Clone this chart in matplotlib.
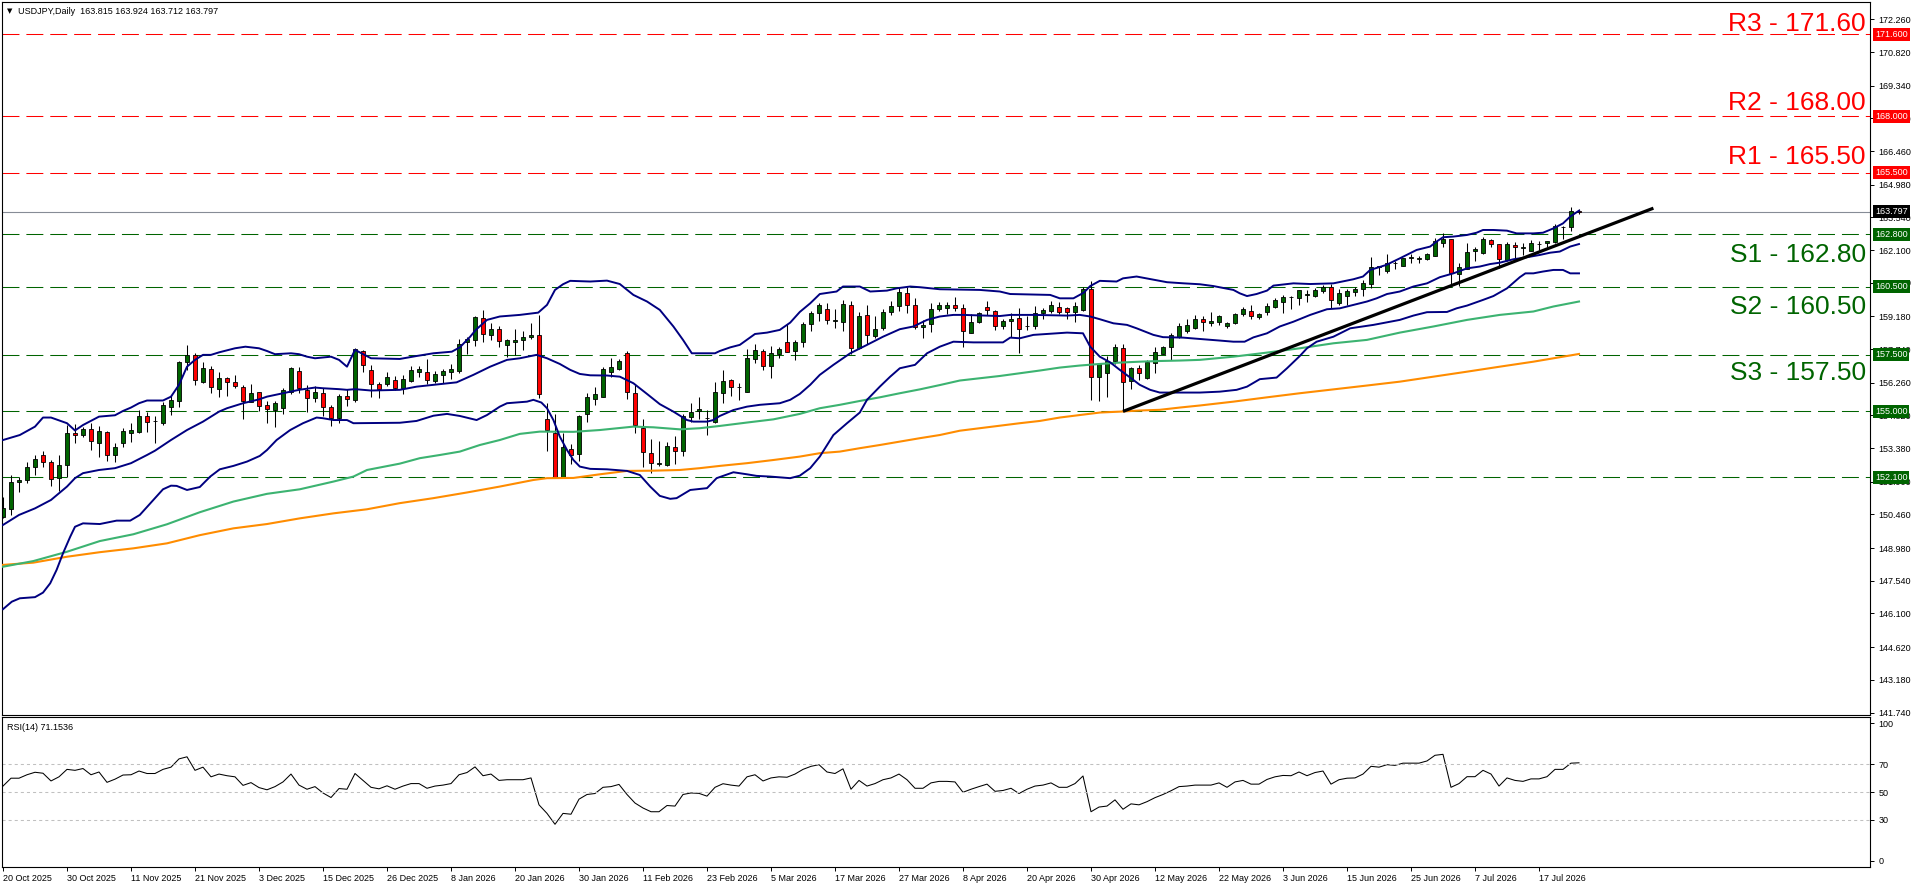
import numpy as np
import matplotlib.pyplot as plt

plt.rcParams['font.family'] = ['Liberation Sans', 'DejaVu Sans']
plt.rcParams['lines.scale_dashes'] = False

# ---- USDJPY daily candles ----
opens = [150.37, 150.69, 151.88, 151.98, 152.54, 153.08, 152.76, 152.06, 152.64, 154.07,
         153.94, 154.21, 153.63, 154.08, 153.07, 153.63, 154.04, 154.11, 154.79, 154.58,
         154.51, 155.18, 155.45, 157.16, 157.49, 156.28, 156.86, 155.98, 156.46, 156.28,
         156.06, 155.43, 155.84, 155.29, 155.04, 155.14, 155.84, 156.78, 155.95, 155.58,
         155.80, 155.18, 154.70, 155.67, 155.51, 157.66, 156.83, 156.19, 156.19, 156.39,
         156.02, 156.34, 156.72, 156.72, 156.34, 156.61, 156.72, 156.78, 158.07, 158.15,
         159.10, 158.35, 158.62, 157.91, 158.04, 158.13, 158.26, 158.35, 154.65, 154.06,
         152.10, 153.36, 153.11, 154.87, 155.53, 155.62, 156.75, 156.88, 157.56, 155.80,
         154.26, 153.16, 152.70, 152.63, 153.42, 153.27, 154.74, 155.01, 154.70, 154.55,
         155.83, 156.39, 156.06, 155.87, 157.32, 157.65, 157.02, 157.53, 158.06, 157.65,
         158.07, 158.84, 159.32, 159.53, 159.00, 158.93, 159.67, 157.78, 159.23, 158.34,
         158.66, 159.38, 159.66, 160.20, 159.67, 158.70, 158.85, 159.50, 159.57, 159.67,
         159.54, 158.47, 158.92, 159.59, 159.41, 158.76, 158.97, 159.10, 158.76, 158.78,
         159.32, 159.41, 159.59, 159.54, 159.39, 159.47, 160.38, 156.50, 156.68, 157.21,
         157.78, 156.36, 156.90, 156.46, 157.14, 157.55, 157.82, 158.29, 158.54, 158.69,
         159.06, 158.88, 158.92, 158.74, 158.88, 159.28, 159.41, 159.15, 159.37, 159.62,
         159.83, 160.04, 159.98, 160.11, 160.07, 160.32, 160.50, 159.79, 160.10, 160.28,
         160.38, 160.63, 161.35, 161.20, 161.52, 161.42, 161.74, 161.73, 161.70, 161.86,
         162.43, 162.59, 161.04, 161.27, 162.08, 161.99, 162.55, 162.36, 161.67, 162.33,
         162.18, 162.07, 162.36, 162.40, 162.45, 163.13, 163.11, 163.815]
highs = [151.25, 152.20, 152.13, 152.79, 153.08, 153.26, 152.86, 153.08, 154.40, 154.43,
         154.33, 154.48, 154.36, 154.14, 153.60, 154.27, 154.48, 155.04, 154.99, 154.80,
         155.43, 155.72, 157.21, 157.93, 157.56, 157.19, 157.00, 156.72, 156.50, 156.59,
         156.17, 156.21, 155.87, 155.48, 155.48, 156.02, 156.97, 156.94, 156.17, 156.12,
         156.02, 155.29, 155.77, 155.98, 157.78, 157.71, 157.03, 156.31, 156.72, 156.58,
         156.59, 157.00, 157.02, 157.31, 156.80, 156.86, 157.09, 158.18, 158.29, 159.20,
         159.47, 158.91, 158.76, 158.20, 158.63, 158.54, 158.91, 159.25, 155.36, 154.89,
         154.04, 153.57, 154.84, 155.80, 156.06, 156.94, 157.34, 157.31, 157.65, 156.17,
         154.67, 153.77, 153.70, 153.67, 153.92, 154.87, 155.36, 155.65, 155.04, 156.28,
         156.83, 156.44, 156.24, 157.74, 157.97, 157.75, 157.88, 157.85, 158.85, 158.15,
         158.95, 159.42, 159.76, 159.76, 159.50, 159.91, 159.85, 159.37, 159.69, 159.20,
         159.51, 159.85, 160.50, 160.50, 159.98, 159.01, 159.76, 159.82, 159.83, 160.03,
         159.72, 159.28, 159.38, 159.86, 159.47, 159.06, 159.32, 159.57, 159.20, 159.64,
         159.54, 159.85, 159.84, 159.62, 159.84, 160.50, 160.75, 157.09, 157.46, 157.97,
         157.97, 156.97, 157.05, 157.27, 157.82, 157.90, 158.47, 158.88, 159.06, 159.25,
         159.18, 159.37, 159.26, 158.95, 159.35, 159.62, 159.69, 159.34, 159.76, 159.98,
         160.13, 160.08, 160.36, 160.35, 160.44, 160.58, 160.61, 160.38, 160.38, 160.47,
         160.79, 161.80, 161.42, 161.93, 161.64, 161.77, 161.93, 161.85, 161.96, 162.62,
         162.84, 162.60, 161.52, 162.40, 162.26, 162.70, 162.58, 162.39, 162.48, 162.45,
         162.43, 162.55, 162.52, 162.52, 163.26, 163.17, 164.02, 163.924]
lows = [150.30, 150.44, 151.47, 151.84, 152.20, 152.57, 151.73, 151.51, 152.13, 153.63,
        153.89, 153.30, 152.98, 152.83, 152.77, 153.42, 153.67, 154.04, 154.11, 153.63,
        154.40, 154.83, 155.21, 156.83, 156.17, 156.24, 155.80, 155.65, 155.70, 156.02,
        154.65, 155.41, 155.02, 154.51, 154.33, 154.89, 155.75, 155.80, 154.96, 155.43,
        154.80, 154.37, 154.51, 155.26, 155.40, 156.72, 155.65, 155.58, 156.14, 155.93,
        155.77, 156.28, 156.50, 156.19, 156.27, 156.27, 156.43, 156.68, 157.52, 157.90,
        158.07, 158.15, 157.82, 157.41, 157.47, 157.71, 158.18, 155.61, 153.27, 152.10,
        152.10, 152.69, 152.83, 154.55, 155.29, 155.62, 156.53, 156.83, 155.53, 154.04,
        152.54, 152.28, 152.60, 152.60, 152.69, 153.04, 154.55, 154.68, 153.96, 154.48,
        155.36, 155.68, 155.51, 155.87, 157.12, 156.83, 156.46, 157.34, 157.63, 157.27,
        157.85, 158.54, 158.98, 158.84, 158.69, 158.56, 157.55, 157.74, 157.97, 158.25,
        158.59, 159.26, 159.44, 159.32, 158.63, 158.25, 158.51, 159.41, 159.31, 159.44,
        157.85, 158.44, 158.88, 159.25, 158.59, 158.65, 158.29, 157.59, 158.57, 158.63,
        159.07, 159.32, 159.29, 159.07, 158.95, 159.42, 155.51, 155.48, 155.65, 157.09,
        155.02, 155.99, 156.39, 156.43, 156.71, 157.52, 157.27, 158.25, 158.47, 158.62,
        158.56, 158.74, 158.81, 158.69, 158.85, 159.18, 159.07, 159.07, 159.25, 159.56,
        159.35, 159.51, 159.69, 159.82, 160.03, 160.23, 159.57, 159.69, 159.69, 160.08,
        160.10, 160.45, 160.99, 161.08, 161.26, 161.42, 161.55, 161.52, 161.67, 161.86,
        162.26, 160.57, 160.52, 161.26, 161.64, 161.93, 162.23, 161.30, 161.64, 161.74,
        161.89, 162.07, 162.11, 162.23, 162.40, 162.58, 162.96, 163.712]
closes = [150.73, 151.91, 151.98, 152.57, 152.89, 152.76, 152.01, 152.64, 154.04, 153.95,
          154.21, 153.69, 154.14, 153.07, 153.44, 154.12, 154.17, 154.79, 154.52, 154.57,
          155.27, 155.51, 157.16, 157.49, 156.39, 156.90, 156.06, 156.46, 156.28, 156.14,
          155.45, 155.80, 155.24, 155.09, 155.36, 155.95, 156.90, 156.02, 155.58, 155.84,
          155.21, 154.70, 155.68, 155.53, 157.74, 157.05, 156.21, 155.99, 156.50, 156.02,
          156.42, 156.83, 156.86, 156.39, 156.64, 156.78, 156.86, 157.97, 158.19, 159.15,
          158.41, 158.62, 158.09, 158.15, 158.15, 158.26, 158.37, 155.75, 154.18, 152.10,
          153.42, 153.07, 154.79, 155.62, 155.75, 156.86, 156.97, 157.24, 155.84, 154.39,
          153.23, 152.72, 152.72, 153.48, 153.27, 154.79, 154.98, 155.09, 154.71, 155.84,
          156.34, 156.09, 156.08, 157.34, 157.69, 157.02, 157.56, 157.74, 157.63, 158.06,
          158.84, 159.32, 159.69, 159.03, 159.01, 159.72, 157.78, 159.18, 158.37, 158.62,
          159.37, 159.64, 160.25, 159.67, 158.72, 158.81, 159.50, 159.69, 159.67, 159.54,
          158.54, 158.92, 159.32, 159.45, 158.76, 158.98, 159.09, 158.63, 158.77, 159.32,
          159.45, 159.67, 159.37, 159.39, 159.63, 160.38, 156.53, 157.08, 157.22, 157.85,
          156.31, 156.90, 156.68, 157.16, 157.60, 157.85, 158.35, 158.75, 158.79, 159.06,
          158.92, 158.98, 159.18, 158.88, 159.28, 159.50, 159.22, 159.29, 159.64, 159.89,
          160.04, 160.06, 160.33, 160.17, 160.33, 160.50, 159.89, 160.20, 160.32, 160.38,
          160.64, 161.35, 161.41, 161.52, 161.53, 161.74, 161.82, 161.76, 161.92, 162.49,
          162.59, 161.08, 161.38, 162.04, 162.14, 162.59, 162.36, 161.70, 162.36, 162.23,
          162.23, 162.40, 162.39, 162.51, 163.17, 163.14, 163.81, 163.797]

rsi = [54.3, 60, 60, 62.5, 64.3, 63.6, 58, 61, 66.4, 65.7,
       67, 62.5, 64.5, 57, 59.3, 62.3, 62.5, 65.2, 63.4, 63.4,
       66.4, 68, 74, 75.5, 65.7, 68, 61, 63, 61.8, 61,
       54.8, 56.8, 53.2, 51.6, 53.9, 57.3, 63, 55, 52, 53.9,
       49.3, 46, 52.5, 52, 63.4, 58.4, 53.4, 52.3, 54.5, 52,
       54.3, 56.1, 56.1, 52.7, 54.3, 55, 56.1, 62.5, 64.1, 68.2,
       61.8, 63, 58.4, 58.9, 58.9, 58.9, 60.2, 40.7, 34.5, 26.6,
       34.5, 33.9, 44.8, 48.2, 48.9, 53.4, 53.9, 55.5, 48.2, 42,
       38.4, 35.7, 35.7, 40.2, 39.8, 48.2, 49.3, 49, 47, 53.4,
       56, 55, 54.3, 61, 62.5, 58, 60.2, 61, 60.7, 63,
       66.4, 68.6, 69.8, 64.5, 63.4, 66.8, 52, 58.4, 54.3, 56.1,
       58.9, 60.2, 63, 58.9, 52.7, 52.7, 56.6, 57.7, 57.7, 57.3,
       49.8, 52, 53.9, 55.7, 50.5, 51.1, 52.7, 48.9, 52, 54.3,
       55, 56.6, 53.4, 53.4, 56.1, 61.6, 35.7, 39.1, 39.8, 44.3,
       37.5, 41.4, 40.7, 43, 45.9, 48.2, 50.9, 53.9, 54.3, 55,
       55, 55, 56.6, 53.4, 57.3, 58.4, 55.7, 55.7, 59.1, 61,
       62, 61.8, 64.5, 61.8, 64.1, 65.2, 55.7, 58.9, 60, 60.2,
       63, 68.6, 68, 69.8, 69.3, 70.9, 70.9, 70.9, 72.5, 76.6,
       77.3, 53.4, 56.1, 61.1, 61.1, 65.7, 63, 54.3, 60.2, 58.4,
       57.7, 59.5, 59.5, 61.1, 66.4, 66.4, 70.9, 71.15]

# Bollinger bands and moving averages, sampled along the curves (bar index, price)
bb_up_bar = [0, 2.1, 4, 5, 6, 8, 9, 10, 12, 14, 15, 16, 17, 18, 20, 21, 22, 23, 24, 25, 26, 27, 29, 30.3,
             32, 33, 34, 36, 37, 38, 39, 41, 42, 43, 44, 46, 49.6, 51.7, 53.8, 56.1, 57.1, 58.4, 59.1,
             60.5, 62.1, 64.6, 66.9, 68, 69, 70, 70.9, 73.4, 75.5, 77.1, 78.8, 80.5, 82.1, 83.8, 85,
             86.1, 89, 89.6, 90.9, 92.1, 94, 95.5, 97.1, 98.4, 99.6, 100.9, 102.1, 104.2, 105, 107.1,
             108.4, 110.5, 111.7, 113.4, 114.6, 117.1, 122.1, 124.6, 125.9, 130.9, 132.1, 133.8, 135.1,
             135.9, 137.1, 139.2, 140, 141.7, 143.4, 145.5, 147.6, 149.6, 151.3, 153.8, 154.6, 155.5,
             156.7, 158, 158.8, 161.3, 163.4, 166.3, 168.8, 170, 170.9, 172.9, 174.6, 176.7, 178.4,
             179.2, 180, 181.3, 183, 184.2, 185, 186.3, 188, 189.2, 191.3, 192.5, 193.8, 195, 195.9, 197]
bb_up = [153.74, 153.96, 154.33, 154.73, 154.73, 154.48, 154.16, 154.40, 154.77, 154.83, 155.02, 155.17,
         155.36, 155.48, 155.48, 155.65, 156.17, 156.97, 157.27, 157.49, 157.49, 157.60, 157.78, 157.85,
         157.78, 157.66, 157.52, 157.56, 157.52, 157.41, 157.34, 157.41, 157.27, 156.97, 157.71, 157.34,
         157.31, 157.44, 157.56, 157.63, 157.82, 158.29, 158.59, 159.03, 159.18, 159.25, 159.35, 159.69,
         160.35, 160.60, 160.75, 160.72, 160.76, 160.61, 160.13, 159.84, 159.47, 158.74, 158.15, 157.56,
         157.56, 157.66, 157.82, 157.93, 158.41, 158.47, 158.59, 158.91, 159.38, 159.76, 160.17, 160.28,
         160.50, 160.50, 160.28, 160.32, 160.42, 160.50, 160.47, 160.38, 160.35, 160.28, 160.17, 160.13,
         159.98, 159.98, 160.23, 160.52, 160.75, 160.72, 160.86, 160.94, 160.83, 160.69, 160.64, 160.60,
         160.52, 160.35, 160.20, 160.08, 160.17, 160.32, 160.54, 160.64, 160.61, 160.64, 160.82, 160.94,
         161.23, 161.45, 161.74, 162.11, 162.26, 162.48, 162.67, 162.70, 162.77, 162.87, 162.99, 162.99,
         162.96, 162.84, 162.84, 162.87, 163.06, 163.28, 163.58, 163.84]

bb_mid_bar = [0, 2, 4, 6, 8, 9, 10, 12, 14, 16, 18, 19, 21, 23, 25, 27, 28, 30, 32, 33, 35, 37, 39, 40,
              42, 43, 44, 46, 49.6, 51.7, 53.8, 56.7, 58.8, 60.9, 63, 64.6, 66.7, 68, 69.6, 70.9, 72.1,
              73.4, 75.5, 77.1, 78.8, 80.5, 82.1, 83.8, 85.5, 86.3, 88, 88.8, 89.6, 91.3, 93, 94.6, 97.1,
              98.4, 99.6, 100.9, 102.1, 103.8, 105.9, 108, 110, 112.1, 113.8, 115.5, 117.1, 118.8, 120,
              124.6, 125.9, 128.8, 133, 134.6, 135.9, 137.1, 138.8, 140.5, 141.7, 143.8, 145, 147.5,
              149.6, 152.1, 153.8, 155.2, 156.3, 158, 159.6, 161.3, 163.4, 165.5, 167.1, 168.8, 170.5,
              171.7, 173, 174.6, 176.3, 178, 179.6, 181.3, 183, 184.6, 185.9, 187.1, 188.8, 190.5, 192.1,
              193.4, 194.6, 195.9, 197]
bb_mid = [150.00, 150.44, 150.73, 151.10, 151.69, 152.06, 152.28, 152.42, 152.50, 152.72, 153.08, 153.27,
          153.74, 154.18, 154.55, 154.99, 155.14, 155.36, 155.53, 155.65, 155.80, 155.95, 156.05, 156.02,
          155.98, 155.95, 155.98, 155.92, 155.95, 156.09, 156.17, 156.28, 156.61, 156.97, 157.27, 157.34,
          157.49, 157.34, 157.09, 156.83, 156.65, 156.59, 156.58, 156.53, 156.24, 155.77, 155.32, 154.99,
          154.62, 154.55, 154.55, 154.62, 154.80, 155.06, 155.21, 155.29, 155.36, 155.51, 155.77, 156.17,
          156.61, 157.05, 157.56, 157.93, 158.29, 158.62, 158.74, 159.03, 159.18, 159.25, 159.25, 159.20,
          159.25, 159.25, 159.22, 159.25, 159.18, 159.06, 158.88, 158.81, 158.66, 158.37, 158.27, 158.25,
          158.19, 158.12, 158.07, 158.07, 158.26, 158.44, 158.74, 158.95, 159.25, 159.50, 159.54, 159.69,
          159.84, 159.98, 160.17, 160.28, 160.50, 160.64, 160.91, 161.08, 161.30, 161.38, 161.49, 161.55,
          161.70, 161.79, 161.89, 161.99, 162.04, 162.26, 162.37]

bb_low_bar = [0, 1.1, 2.1, 4, 5, 5.9, 6.7, 7.5, 8.4, 9, 10, 12.1, 14.2, 15.9, 17.1, 18.8, 20, 21, 21.7, 23,
              24.6, 25.9, 27.1, 28.8, 30.5, 32.1, 33, 34.2, 35.9, 37.5, 39.2, 40, 41.3, 43, 43.8, 49.6,
              51.7, 53.8, 55.5, 57.1, 59.2, 60.5, 62.1, 63, 65.5, 66.3, 67.3, 68, 68.8, 69.6, 70.5, 71.3,
              72.1, 73.4, 75.5, 78, 79.6, 80.9, 82.1, 83.4, 84.2, 85.9, 88, 89.2, 91.3, 93, 94.2, 95.9,
              98.4, 99.6, 100.9, 102.1, 103.8, 105.5, 107.1, 108, 109.6, 110.9, 112.1, 114, 115.5, 117.1,
              118.8, 121.3, 125, 125.9, 127.1, 128.8, 130.5, 133, 135, 135.9, 137.1, 138.4, 139.6, 140.9,
              142.1, 143.4, 144.6, 149.6, 152.1, 154.2, 155.5, 157.1, 159.2, 160.5, 162.1, 163, 164.2,
              166.3, 168.4, 171.3, 174.6, 176.3, 178, 180.5, 181.7, 183, 185, 186.3, 188, 189.6, 190.3,
              191.3, 192.5, 193.8, 195, 195.9, 197]
bb_low = [146.29, 146.62, 146.77, 146.82, 147.02, 147.43, 148.02, 148.75, 149.48, 149.92, 150.07, 150.04,
          150.19, 150.19, 150.44, 151.10, 151.57, 151.73, 151.72, 151.54, 151.67, 152.13, 152.45, 152.60,
          152.79, 153.04, 153.30, 153.74, 154.18, 154.48, 154.73, 154.70, 154.62, 154.62, 154.48, 154.50,
          154.58, 154.81, 154.89, 154.80, 154.62, 154.84, 155.21, 155.36, 155.43, 155.51, 155.39, 155.14,
          154.62, 153.89, 153.30, 152.86, 152.57, 152.47, 152.45, 152.38, 152.20, 151.69, 151.28, 151.15,
          151.18, 151.54, 151.62, 152.06, 152.32, 152.23, 152.16, 152.13, 152.06, 152.17, 152.50, 153.01,
          153.96, 154.48, 154.95, 155.51, 156.09, 156.53, 156.90, 157.05, 157.56, 157.85, 158.07, 158.04,
          158.04, 158.25, 158.22, 158.37, 158.41, 158.47, 158.44, 157.85, 157.41, 157.16, 156.83, 156.49,
          156.17, 155.95, 155.83, 155.83, 155.87, 155.95, 156.09, 156.42, 156.49, 156.90, 157.44, 157.78,
          158.07, 158.29, 158.66, 158.81, 159.03, 159.22, 159.37, 159.38, 159.54, 159.66, 159.91, 160.08,
          160.42, 160.91, 161.08, 161.08, 161.16, 161.23, 161.23, 161.08, 161.08]

ma_green_bar = [0, 3.8, 8, 12.1, 16.3, 20.5, 24.6, 28.8, 33, 37.1, 41.3, 43.8, 45.5, 49.6, 52.1, 54.6, 57.1,
                59.6, 62.1, 64.6, 67.1, 71.3, 74.6, 78.8, 81.3, 84.6, 87.1, 89.6, 93, 96.3, 99.6, 102.1,
                104.6, 107.1, 109.6, 112.1, 114.6, 117.1, 119.6, 122.1, 124.6, 127.1, 129.6, 132.1, 134.6,
                137.1, 139.6, 142.1, 144.6, 147.1, 149.6, 153.8, 158, 162.1, 166.3, 170.5, 174.6, 178.8,
                183, 187.1, 191.3, 193.8, 197]
ma_green = [148.16, 148.41, 148.82, 149.29, 149.59, 150.03, 150.56, 151.03, 151.37, 151.57, 151.91, 152.13,
            152.42, 152.70, 152.94, 153.08, 153.23, 153.52, 153.74, 154.01, 154.11, 154.10, 154.18, 154.33,
            154.30, 154.21, 154.26, 154.36, 154.51, 154.65, 154.89, 155.14, 155.29, 155.46, 155.62, 155.80,
            155.97, 156.16, 156.36, 156.46, 156.56, 156.68, 156.80, 156.93, 157.02, 157.09, 157.15, 157.19,
            157.22, 157.24, 157.27, 157.41, 157.59, 157.78, 158.00, 158.15, 158.47, 158.74, 159.03, 159.25,
            159.40, 159.62, 159.84]

ma_orange_bar = [0, 3.8, 8, 12.1, 16.3, 20.5, 24.6, 28.8, 33, 37.1, 41.3, 45.5, 49.6, 53.8, 58, 62.1, 66.3,
                 68, 71.3, 74.6, 78, 81.3, 84.6, 87.1, 89.6, 93, 96.3, 99.6, 102.1, 104.6, 107.1, 109.6,
                 112.1, 114.6, 117.1, 119.6, 122.1, 124.6, 127.1, 129.6, 132.1, 134.6, 137.1, 139.6, 142.1,
                 144.6, 147.1, 149.6, 153.8, 158, 162.1, 166.3, 170.5, 174.6, 178.8, 183, 187.1, 191.3,
                 195.5, 197]
ma_orange = [148.24, 148.34, 148.60, 148.80, 148.97, 149.19, 149.55, 149.85, 150.04, 150.29, 150.51, 150.69,
             150.96, 151.18, 151.43, 151.69, 151.98, 152.06, 152.07, 152.23, 152.38, 152.39, 152.42, 152.50,
             152.60, 152.72, 152.86, 153.01, 153.16, 153.23, 153.38, 153.52, 153.67, 153.82, 153.96, 154.15,
             154.26, 154.37, 154.48, 154.58, 154.73, 154.84, 154.95, 154.99, 155.04, 155.07, 155.17, 155.26,
             155.43, 155.62, 155.80, 155.97, 156.14, 156.31, 156.53, 156.75, 156.97, 157.19, 157.44, 157.53]

trend_bar = [140, 206.3]
trend_val = [155.0, 163.95]

resist = [165.5, 168.0, 171.6]
support = [162.8, 160.5, 157.5, 155.0, 152.1]
last_price = 163.797
r_names = ['R1 - 165.50', 'R2 - 168.00', 'R3 - 171.60']
s_names = ['S1 - 162.80', 'S2 - 160.50', 'S3 - 157.50']

price_ticks = [141.74, 143.18, 144.62, 146.10, 147.54, 148.98, 150.46, 151.90, 153.38, 154.82, 156.26,
               157.74, 159.18, 160.66, 162.10, 163.54, 164.98, 166.46, 167.90, 169.34, 170.82, 172.26]
date_labels = ['20 Oct 2025', '30 Oct 2025', '11 Nov 2025', '21 Nov 2025', '3 Dec 2025', '15 Dec 2025',
               '26 Dec 2025', '8 Jan 2026', '20 Jan 2026', '30 Jan 2026', '11 Feb 2026', '23 Feb 2026',
               '5 Mar 2026', '17 Mar 2026', '27 Mar 2026', '8 Apr 2026', '20 Apr 2026', '30 Apr 2026',
               '12 May 2026', '22 May 2026', '3 Jun 2026', '15 Jun 2026', '25 Jun 2026', '7 Jul 2026',
               '17 Jul 2026']

# ---- figure ----
W, H = 1916, 888
fig = plt.figure(figsize=(W / 100, H / 100), dpi=100)
ax = fig.add_axes([2 / W, 1 - 715 / H, 1868 / W, 713 / H])
ax2 = fig.add_axes([2 / W, 1 - 867 / H, 1868 / W, 150 / H])

o = np.array(opens); h = np.array(highs); l = np.array(lows); c = np.array(closes)
x = np.arange(len(c))
up = c >= o

dash = (12.2, 5.0)
for lv in resist:
    ax.axhline(lv, color='#ff0000', lw=0.75, dashes=dash, zorder=1)
for lv in support:
    ax.axhline(lv, color='#006400', lw=0.75, dashes=dash, zorder=1)
ax.axhline(last_price, color='#868c96', lw=0.8, zorder=1)

ax.vlines(x, l, h, color='black', lw=0.75, zorder=2)
ax.bar(x[up], (c - o)[up], bottom=o[up], width=0.62, color='#006400', edgecolor='black', lw=0.6, zorder=2.5)
ax.bar(x[~up], (o - c)[~up], bottom=c[~up], width=0.62, color='#ff0000', edgecolor='black', lw=0.6, zorder=2.5)

ax.plot(ma_orange_bar, ma_orange, color='#ff8c00', lw=1.5, zorder=3)
ax.plot(ma_green_bar, ma_green, color='#3cb371', lw=1.5, zorder=3)
for bx, by in [(bb_up_bar, bb_up), (bb_mid_bar, bb_mid), (bb_low_bar, bb_low)]:
    ax.plot(bx, by, color='#000080', lw=1.4, zorder=3)
ax.plot(trend_bar, trend_val, color='black', lw=2.3, zorder=4, solid_capstyle='butt')

ax.set_xlim(-0.125, 233.375)
ax.set_ylim(141.63, 173.03)
ax.set_yticks(price_ticks)
ax.set_yticklabels(['%.3f' % t for t in price_ticks])
ax.yaxis.tick_right()
ax.tick_params(axis='y', labelsize=6.5, length=3, width=0.7, pad=3, direction='out')
ax.tick_params(axis='x', bottom=False, labelbottom=False)

# R / S captions
r_offs = [9, 6.5, 3]
s_offs = [-28, -27, -25]
for lv, name, dy in zip(resist, r_names, r_offs):
    ax.annotate(name, xy=(1, lv), xycoords=('axes fraction', 'data'), xytext=(-4, dy),
                textcoords='offset pixels', ha='right', va='baseline', fontsize=19, color='#ff0000')
for lv, name, dy in zip(support[:3], s_names, s_offs):
    ax.annotate(name, xy=(1, lv), xycoords=('axes fraction', 'data'), xytext=(-4, dy),
                textcoords='offset pixels', ha='right', va='baseline', fontsize=19, color='#006400')

# price boxes on the right scale
def price_box(lv, fc):
    ax.annotate('%.3f' % lv, xy=(1, lv), xycoords=('axes fraction', 'data'), xytext=(5, 0),
                textcoords='offset pixels', ha='left', va='center', fontsize=6.5, color='white',
                bbox=dict(boxstyle='square,pad=0.22', fc=fc, ec='none'), annotation_clip=False, zorder=6)

for lv in resist:
    price_box(lv, '#ff0000')
for lv in support:
    price_box(lv, '#006400')
price_box(last_price, 'black')

# RSI panel
ax2.plot(x, rsi, color='black', lw=0.75)
for lv in [70, 50, 30]:
    ax2.axhline(lv, color='#c0c0c0', lw=0.75, dashes=(2.2, 2.2))
ax2.set_xlim(-0.125, 233.375)
ax2.set_ylim(-4.35, 104.35)
ax2.set_yticks([0, 30, 50, 70, 100])
ax2.yaxis.tick_right()
ax2.tick_params(axis='y', labelsize=6.5, length=3, width=0.7, pad=3)
ax2.set_xticks(np.arange(0, 8 * len(date_labels), 8))
ax2.set_xticklabels(date_labels, ha='left')
ax2.tick_params(axis='x', labelsize=6.5, length=3, width=0.7, pad=2)

for a in (ax, ax2):
    for s in a.spines.values():
        s.set_linewidth(0.8)
        s.set_color('black')

fig.text(7 / W, 1 - 11 / H, '\u25bc', fontsize=5, va='center', family='DejaVu Sans')
fig.text(18 / W, 1 - 11 / H, 'USDJPY,Daily  163.815 163.924 163.712 163.797', fontsize=6.5, va='center')
fig.text(7 / W, 1 - 727 / H, 'RSI(14) 71.1536', fontsize=6.5, va='center')

fig.savefig('out.png', dpi=100)
